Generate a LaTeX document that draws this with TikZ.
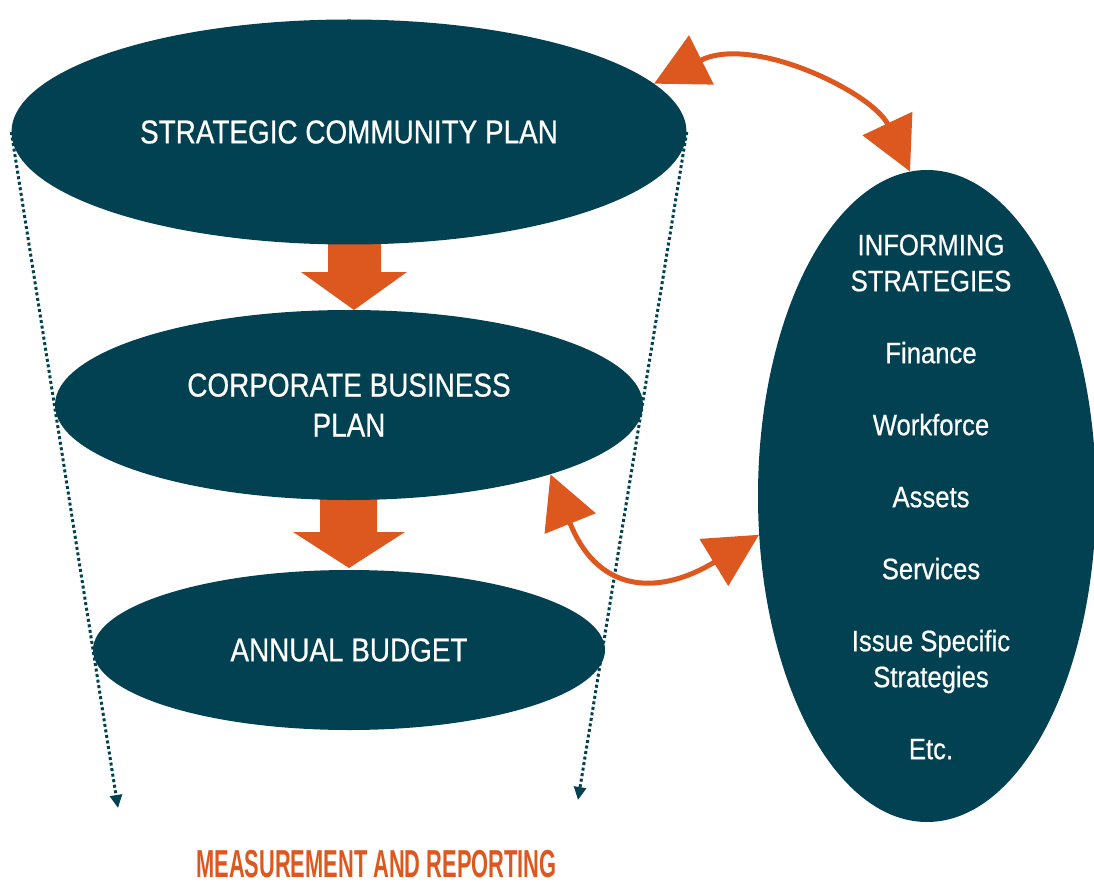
\documentclass[tikz,border=0pt]{standalone}
\usepackage{fontspec}
\setmainfont{Liberation Sans}
\newfontfamily\lblfont[FakeStretch=0.845,FakeBold=0.6]{Liberation Sans}
\newfontfamily\sidefont[FakeStretch=0.87,FakeBold=0.6]{Liberation Sans}
\newfontfamily\footfont[FakeStretch=0.56]{Liberation Sans}
\usetikzlibrary{shapes.geometric,arrows.meta,backgrounds}
\definecolor{planteal}{RGB}{1,65,82}
\definecolor{planorange}{RGB}{221,88,31}
\begin{document}
\begin{tikzpicture}[x=1pt,y=-1pt,
  plan/.style={ellipse, fill=planteal, draw=none, inner sep=0pt, text=white,
    align=center, font=\lblfont\fontsize{33}{40}\selectfont},
  flow/.style={fill=planorange},
  link/.style={draw=planorange, line width=5pt,
    {Triangle[length=53pt,width=54pt]}-{Triangle[length=53pt,width=54pt]}},
  track/.style={draw=planteal, line width=3pt, dash pattern=on 3pt off 2.6pt,
    -{Triangle[length=13pt,width=12pt]}}
]
\useasboundingbox (0,0) rectangle (1094,885);

% planning ellipses
\node[plan, minimum width=675pt, minimum height=225pt] (scp) at (349,132) {STRATEGIC COMMUNITY PLAN};
\node[plan, minimum width=588pt, minimum height=190pt] (cbp) at (349,405) {CORPORATE BUSINESS\\PLAN};
\node[plan, minimum width=512pt, minimum height=160pt] (ab) at (349,650) {ANNUAL BUDGET};

% informing strategies
\node[ellipse, fill=planteal, inner sep=0pt, minimum width=338pt, minimum height=652pt] (inf) at (927,496) {};
\node[text=white, align=center, font=\sidefont\fontsize{29.5}{36}\selectfont] (infText) at (931,497)
  {INFORMING\\STRATEGIES\\[36pt]Finance\\[36pt]Workforce\\[36pt]Assets\\[36pt]Services\\[36pt]Issue Specific\\Strategies\\[36pt]Etc.};

% measurement label
\node[text=planorange, font=\footfont\bfseries\fontsize{39}{40}\selectfont, anchor=base, inner sep=0pt]
  (mr) at (376.5,877) {MEASUREMENT AND REPORTING};
\coordinate (mrL) at (118,808);
\coordinate (mrR) at (578,800);

\begin{scope}[on background layer]
  % block arrows between the plans
  \fill[flow] (328,238) -- (381,238) -- (381,272) -- (407,272) -- (354,310)
    -- (301,272) -- (328,272) -- cycle;
  \fill[flow] (320,495) -- (377,495) -- (377,532) -- (405,532) -- (349,568)
    -- (293,532) -- (320,532) -- cycle;
  % measurement tracks
  \draw[track] (scp.west) -- (mrL);
  \draw[track] (scp.east) -- (mrR);
\end{scope}

% two-way links to the informing strategies
\draw[link] (scp.9) .. controls (753,34) and (873,93) .. (inf.93);
\draw[link] (cbp.-19) .. controls (600,598) and (664,593) .. (inf.193.5);
\end{tikzpicture}
\end{document}
